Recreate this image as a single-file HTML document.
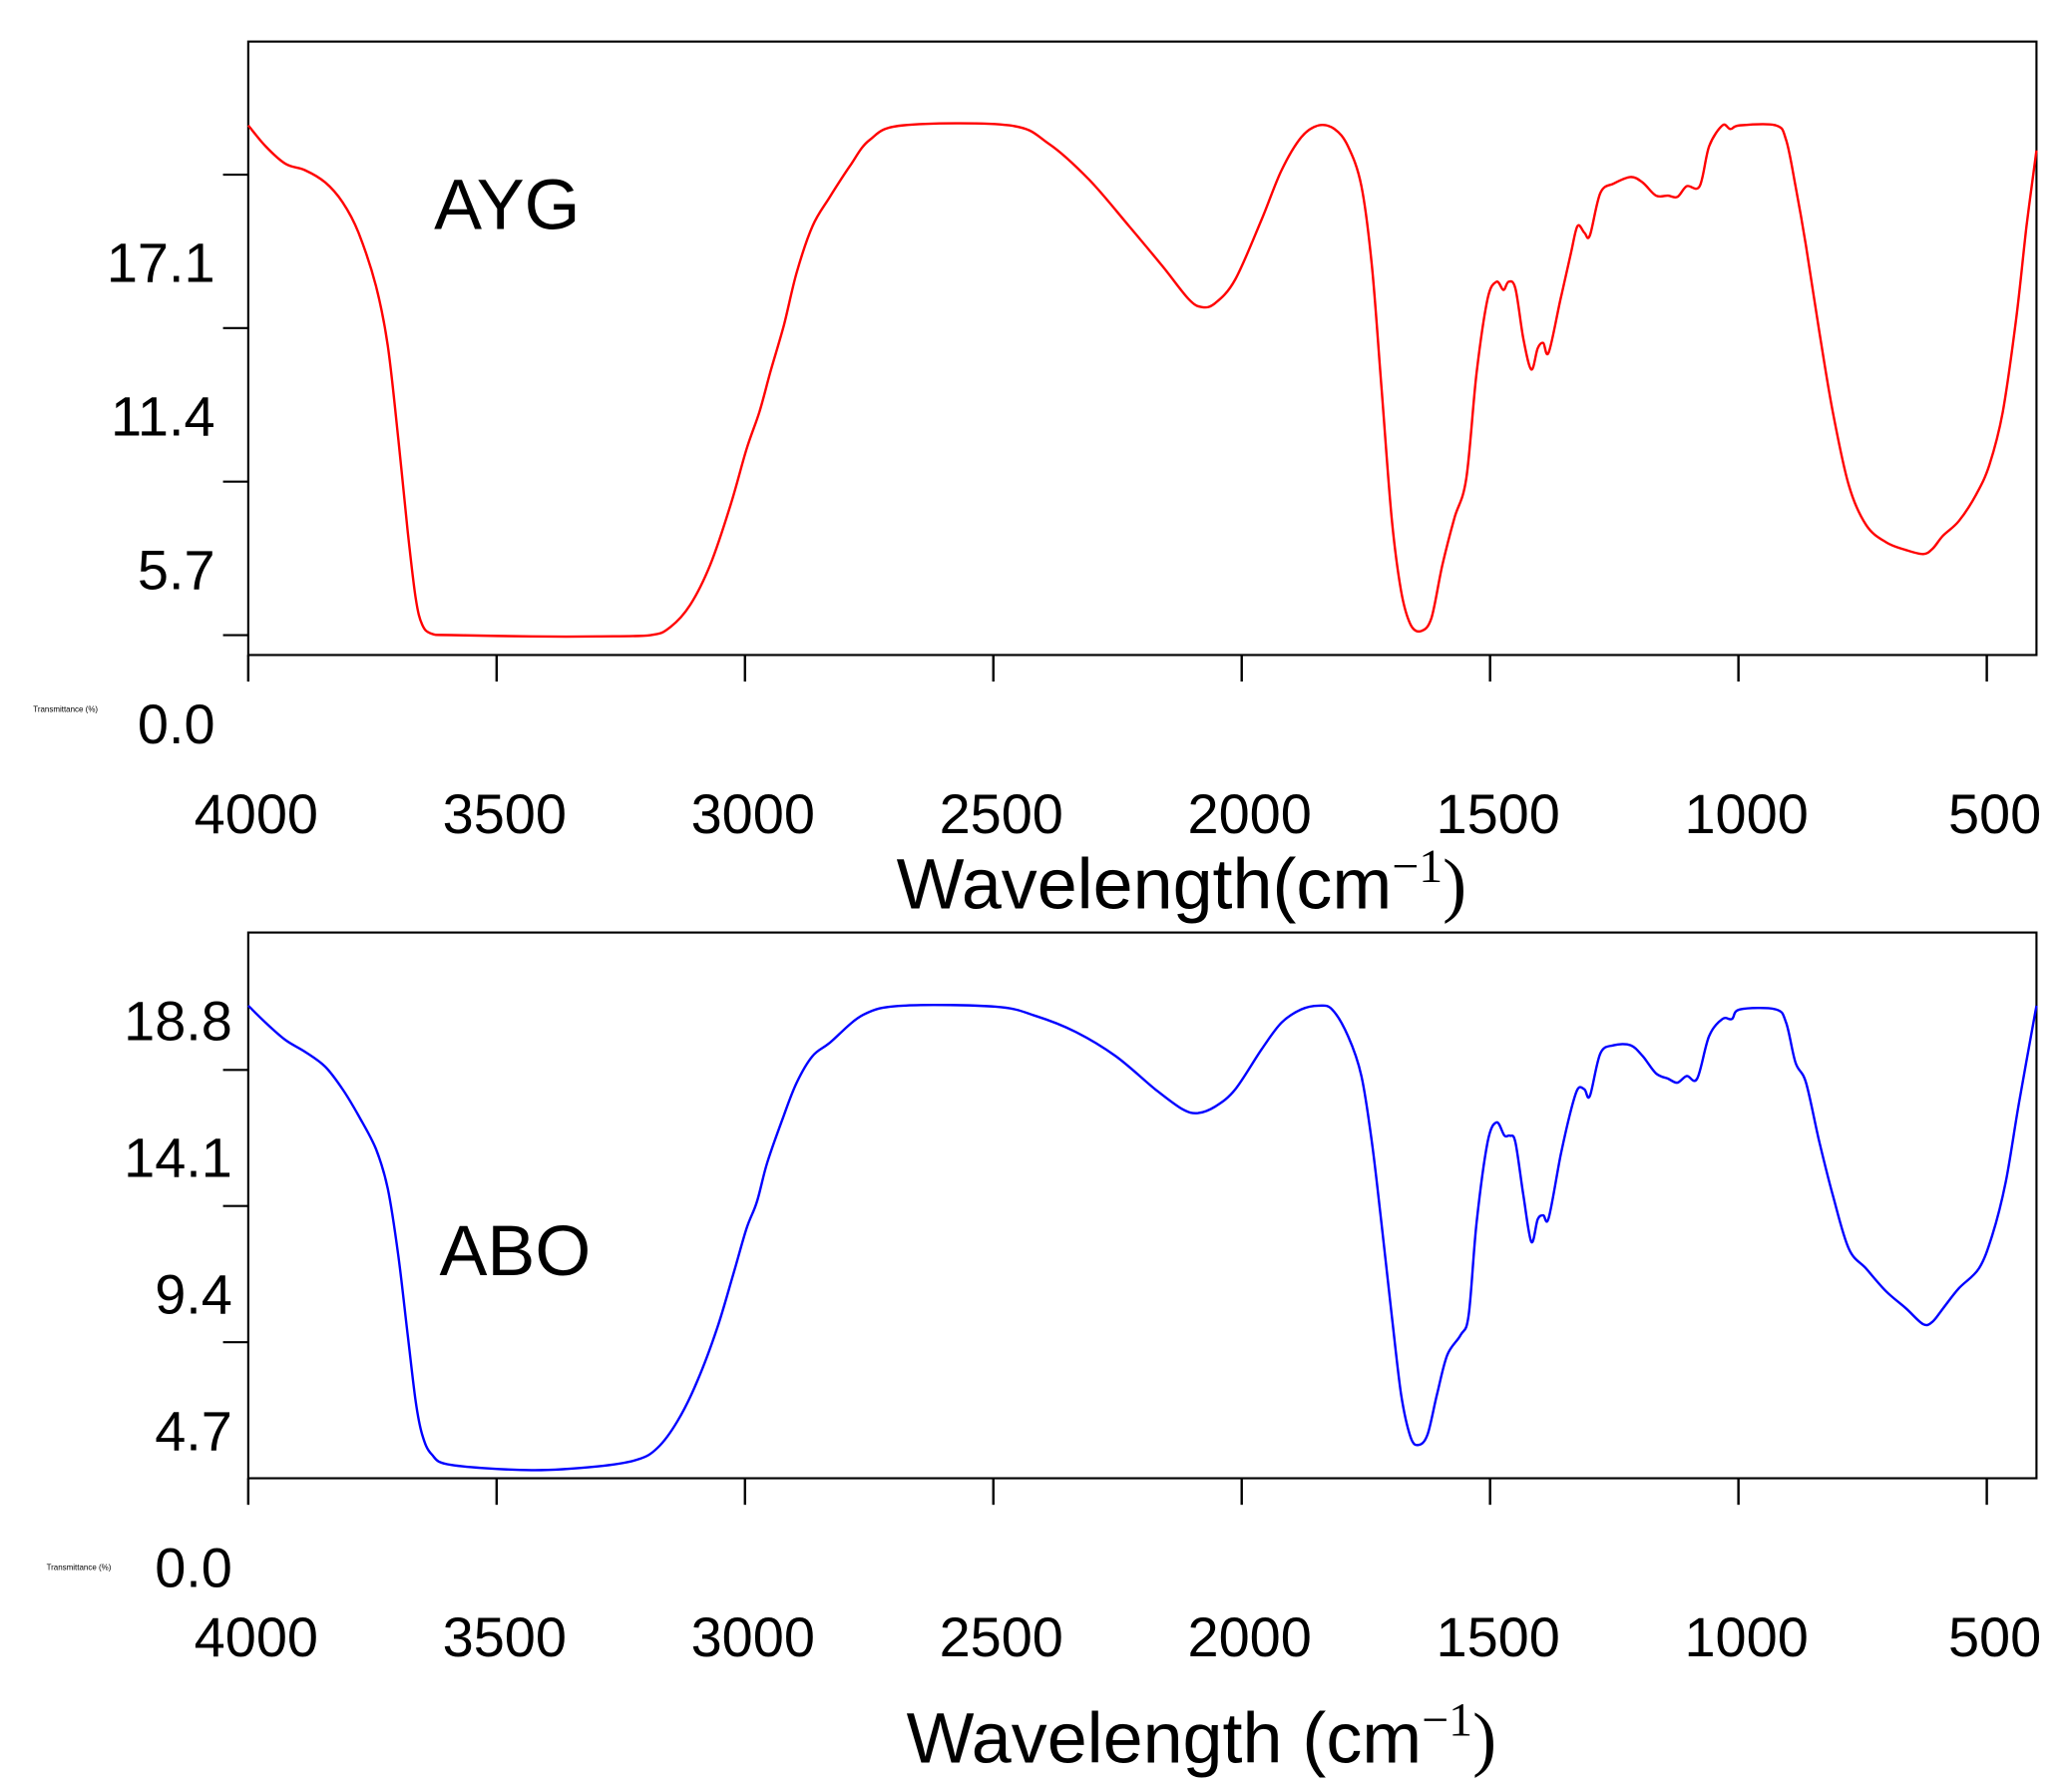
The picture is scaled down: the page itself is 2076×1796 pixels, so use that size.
<!DOCTYPE html>
<html><head><meta charset="utf-8">
<style>
html,body{margin:0;padding:0;background:#fff;}
svg{display:block;}
text{font-family:"Liberation Sans",sans-serif;fill:#000;}
</style></head>
<body>
<svg id="chart" width="2076" height="1796" viewBox="0 0 1560 1349" xmlns="http://www.w3.org/2000/svg">
<g id="top"></g>
<g id="bot"></g>
</svg>
<script>
const xTicks = [4000,3500,3000,2500,2000,1500,1000,500];
const topYTickLabels = ["17.1","11.4","5.7","0.0"];
const botYTickLabels = ["18.8","14.1","9.4","4.7","0.0"];
const aygWn = [4000,3965,3925,3885,3845,3810,3778,3743,3719,3698,3679,3663,3650,3631,3591,3430,3297,3190,3150,3110,3070,3029,2997,2971,2949,2922,2896,2864,2829,2789,2749,2682,2468,2388,2307,2227,2160,2107,2080,2053,2013,1960,1920,1880,1845,1813,1786,1759,1738,1719,1698,1679,1660,1639,1618,1596,1572,1548,1527,1505,1487,1473,1463,1449,1433,1417,1404,1393,1382,1358,1337,1324,1310,1299,1278,1251,1217,1193,1166,1142,1123,1104,1078,1059,1032,1016,997,925,904,885,864,837,810,778,743,703,663,628,609,588,556,521,495,468,441,420,400];
const aygT = [18.93,18.15,17.5,17.26,16.81,16.07,14.94,12.97,10.75,7.3,3.85,1.38,0.39,0.05,0,-0.05,-0.05,0,0.3,1.13,2.61,4.83,6.9,8.28,9.76,11.49,13.46,15.19,16.27,17.41,18.39,18.93,18.93,18.24,16.91,15.19,13.71,12.48,12.18,12.33,13.21,15.43,17.26,18.49,18.93,18.79,18.15,16.67,13.71,9.27,4.34,1.63,0.39,0.15,0.64,2.61,4.34,5.82,9.76,12.48,13.12,12.82,13.12,12.87,11.0,9.86,10.65,10.85,10.5,12.48,14.2,15.19,14.94,14.84,16.42,16.77,17.01,16.81,16.32,16.32,16.27,16.67,16.67,18.15,18.93,18.79,18.93,18.93,18.39,16.67,14.45,11.24,8.28,5.57,4.09,3.45,3.16,3.01,3.21,3.7,4.24,5.23,6.31,8.28,11.74,15.19,18.0];
const aboWn = [4000,3965,3925,3885,3845,3810,3778,3743,3719,3698,3679,3663,3650,3631,3591,3430,3297,3217,3176,3136,3096,3056,3024,2997,2976,2955,2922,2896,2864,2829,2762,2682,2495,2414,2334,2254,2174,2120,2088,2053,2013,1960,1920,1880,1845,1818,1786,1759,1738,1719,1698,1679,1660,1644,1626,1607,1586,1559,1543,1527,1505,1487,1471,1460,1449,1433,1417,1404,1393,1382,1358,1340,1324,1310,1299,1278,1251,1217,1193,1166,1142,1123,1104,1083,1059,1032,1013,997,925,904,885,864,837,810,778,743,703,663,628,609,588,556,516,489,462,435,400];
const aboT = [16.32,15.73,15.13,14.72,14.21,13.43,12.52,11.37,10.0,7.7,4.95,2.66,1.51,0.83,0.46,0.28,0.41,0.64,1.05,1.97,3.35,5.18,7.02,8.62,9.54,10.91,12.52,13.66,14.58,15.04,16.0,16.32,16.28,15.96,15.41,14.58,13.43,12.75,12.61,12.84,13.43,14.81,15.73,16.19,16.32,16.19,15.27,13.89,11.6,8.85,5.64,2.89,1.42,1.15,1.51,2.89,4.26,4.95,5.64,8.85,11.6,12.29,11.83,11.83,11.6,9.77,8.16,8.94,9.08,8.99,11.14,12.52,13.43,13.43,13.2,14.67,14.95,14.95,14.58,13.98,13.8,13.66,13.89,13.8,15.27,15.86,15.86,16.19,16.19,15.73,14.35,13.66,11.6,9.77,7.93,7.24,6.46,5.87,5.32,5.41,5.87,6.56,7.24,8.39,10.22,12.98,16.32];

const NS = "http://www.w3.org/2000/svg";
const L = 187, R = 1534;
function xs(w){ return L + (4000 - w) * (R - L) / 3600; }
function mk(tag, attrs, parent){ const e = document.createElementNS(NS, tag); for (const k in attrs) e.setAttribute(k, attrs[k]); parent.appendChild(e); return e; }

function smoothPath(pts){
  let d = 'M' + pts[0][0].toFixed(1) + ',' + pts[0][1].toFixed(1);
  for (let i = 0; i < pts.length - 1; i++){
    const p0 = pts[Math.max(0,i-1)], p1 = pts[i], p2 = pts[i+1], p3 = pts[Math.min(pts.length-1,i+2)];
    const c1x = p1[0] + (p2[0]-p0[0])/6, c1y = p1[1] + (p2[1]-p0[1])/6;
    const c2x = p2[0] - (p3[0]-p1[0])/6, c2y = p2[1] - (p3[1]-p1[1])/6;
    d += 'C' + c1x.toFixed(1) + ',' + c1y.toFixed(1) + ' ' + c2x.toFixed(1) + ',' + c2y.toFixed(1) + ' ' + p2[0].toFixed(1) + ',' + p2[1].toFixed(1);
  }
  return d;
}

function panel(g, cfg){
  const frame = mk('rect', {x:L, y:cfg.top, width:R-L, height:cfg.bottom-cfg.top, fill:'none', stroke:'#000', 'stroke-width':1.6}, g);
  
  
  const ys = v => cfg.y0 - v * cfg.k;
  cfg.yTickVals.forEach(v => {
    const t = mk('line', {x1:168, x2:L, y1:ys(v), y2:ys(v), stroke:'#000', 'stroke-width':1.6}, g);
    
    
  });
  cfg.yLabels.forEach((s, i) => {
    const t = mk('text', {x:cfg.labelX, y:cfg.labelY0 + i * cfg.labelStep + 15, 'text-anchor':'end', 'font-size':42}, g);
    t.textContent = s;
    
    
  });
  xTicks.forEach(w => {
    const t = mk('line', {x1:xs(w), x2:xs(w), y1:cfg.bottom, y2:cfg.bottom + 20, stroke:'#000', 'stroke-width':1.8}, g);
    
    
    const lb = mk('text', {x:xs(w) + 6, y:cfg.xLabelY + 15, 'text-anchor':'middle', 'font-size':42}, g);
    lb.textContent = w;
    
    
  });
  const pts = cfg.wn.map((w, i) => [xs(w), ys(cfg.vals[i])]);
  const p = mk('path', {d:smoothPath(pts), fill:'none', stroke:cfg.color, 'stroke-width':1.8, 'stroke-linejoin':'round'}, g);
  
  
  const lbl = mk('text', {x:cfg.tagX, y:cfg.tagY + 19, 'font-size':54}, g);
  lbl.textContent = cfg.tag;
  
  
  const tiny = mk('text', {x:cfg.tinyX, y:cfg.tinyY + 2, 'font-size':6}, g);
  tiny.textContent = 'Transmittance (%)';
  
  
  const ttl = mk('text', {x:cfg.titleX, y:cfg.titleY + 19, 'text-anchor':'middle', 'font-size':54}, g);
  ttl.innerHTML = cfg.title + '(cm<tspan font-family="Liberation Serif" font-size="36" dy="-20">\u22121</tspan><tspan dy="20" font-family="Liberation Serif">)</tspan>';
  
  
}

panel(document.getElementById('top'), {top:31, bottom:493, y0:478, k:20.28, yTickVals:[0,5.7,11.4,17.1],
  yLabels:topYTickLabels, labelX:162, labelY0:197, labelStep:115.8, xLabelY:612,
  wn:aygWn, vals:aygT, color:'#ff0000', name:'ayg', tag:'AYG', tagX:327, tagY:153,
  tinyX:25, tinyY:534, titleX:890, titleY:665, title:'Wavelength'});
panel(document.getElementById('bot'), {top:702, bottom:1113, y0:1113, k:21.81, yTickVals:[4.7,9.4,14.1],
  yLabels:botYTickLabels, labelX:175, labelY0:768, labelStep:103, xLabelY:1232,
  wn:aboWn, vals:aboT, color:'#0000ff', name:'abo', tag:'ABO', tagX:331, tagY:941,
  tinyX:35, tinyY:1180, titleX:905, titleY:1308, title:'Wavelength '});
</script>
</body></html>
